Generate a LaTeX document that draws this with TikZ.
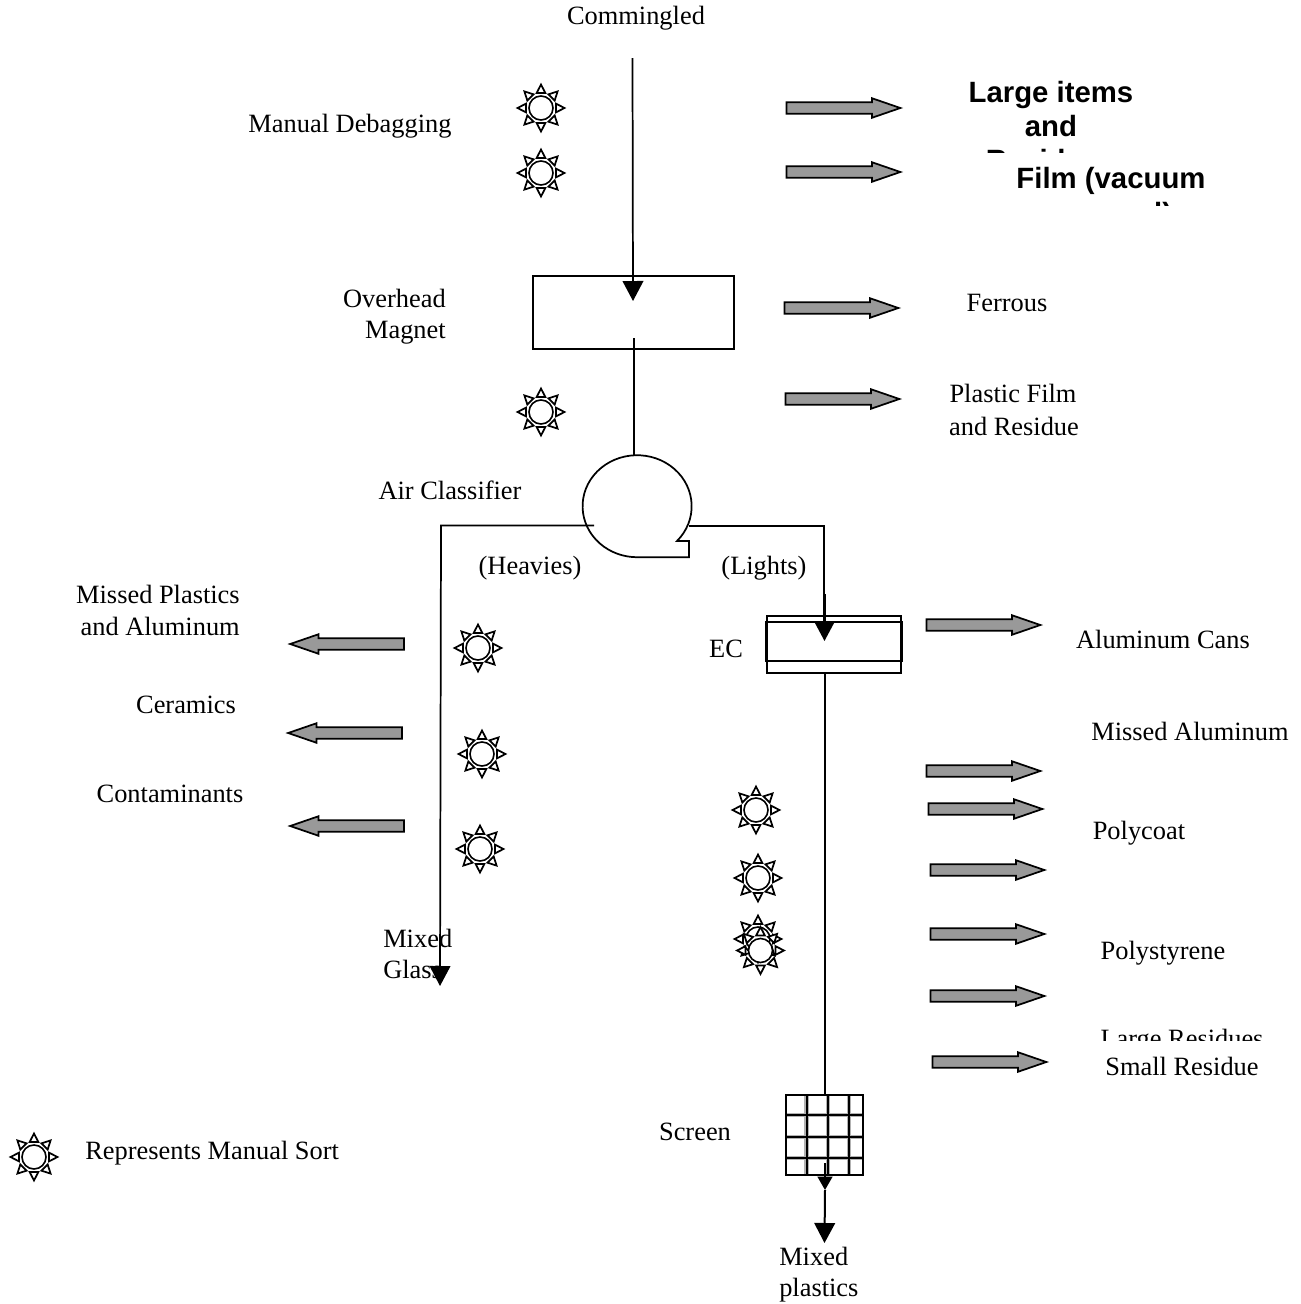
\documentclass[tikz,border=0pt]{standalone}
\usepackage{fontspec}
\setmainfont{Liberation Serif}
\newfontfamily\arialfont{Liberation Sans}
\usetikzlibrary{arrows.meta,shapes.arrows}
\tikzset{
  x=.75pt,y=-.75pt,
  flow/.style={draw=black,line width=1.3pt},
  flowtip/.style={flow,-{Triangle[length=15pt,width=15.5pt]}},
  smalltip/.style={flow,-{Triangle[length=10pt,width=11pt]}},
  rblock/.style={single arrow,draw=black,fill=black!40,line width=1.3pt,inner sep=3.7pt,
    minimum height=85.4pt,single arrow head extend=3pt,single arrow tip angle=38,
    single arrow head indent=0pt},
  lblock/.style={rblock,shape border rotate=180},
  lbl/.style={font=\fontsize{19.8}{23}\selectfont,inner sep=0pt,anchor=base},
  lblr/.style={lbl,anchor=base east},
  lbll/.style={lbl,anchor=base west},
  bold/.style={font=\arialfont\bfseries\fontsize{22}{26}\selectfont,inner sep=0pt,anchor=base},
  sunray/.style={draw=black,fill=white,line width=1.3pt,line join=miter},
  suncore/.style={draw=black,fill=white,line width=1.2pt,circle,minimum size=18pt,inner sep=0pt},
  sun/.pic={
    \foreach \a in {0,45,...,315}{
      \draw[sunray,rotate=\a] (11.2pt,-3.3pt) -- (17.6pt,0pt) -- (11.2pt,3.3pt) -- cycle;
    }
    \node[suncore] (-core) at (0,0) {};
  }
}
\begin{document}
\begin{tikzpicture}
\useasboundingbox[fill=white] (0,0) rectangle (1301,1304);

% text
\node[lbl] (tcomm) at (636,24) {Commingled};
\node[lbl] (tdebag) at (350,132) {Manual Debagging};
\begin{scope}
  \clip (900,60) rectangle (1250,152);
  \node[bold] (tlarge1) at (1051,102) {Large items};
  \node[bold] (tlarge2) at (1051,136) {and};
  \node[bold] (tlarge3) at (1051,170) {Residues};
\end{scope}
\begin{scope}
  \clip (950,152) rectangle (1250,205);
  \node[bold] (tfilm1) at (1111,188) {Film (vacuum};
  \node[bold] (tfilm2) at (1111,223) {removal)};
\end{scope}
\node[lblr] (tover) at (446,307) {Overhead};
\node[lblr] (tmag) at (446,338) {Magnet};
\node[lbl] (tferr) at (1007,311) {Ferrous};
\node[lbl] (tpf) at (1013,402) {Plastic Film};
\node[lbl] (tres) at (1014,435) {and Residue};
\node[lbl] (tair) at (450,499) {Air Classifier};
\node[lbl] (theav) at (530,574) {(Heavies)};
\node[lbl] (tlight) at (764,574) {(Lights)};
\node[lblr] (tmp) at (240,603) {Missed Plastics};
\node[lblr] (tal) at (240,635) {and Aluminum};
\node[lbl] (tcer) at (186,713) {Ceramics};
\node[lbl] (tcon) at (170,802) {Contaminants};
\node[lbl] (tec) at (726,657) {EC};
\node[lbl] (tcans) at (1163,648) {Aluminum Cans};
\node[lbl] (tma) at (1190,740) {Missed Aluminum};
\node[lbl] (tpoly) at (1139,839) {Polycoat};
\node[lbl] (tstyr) at (1163,959) {Polystyrene};
\begin{scope}
  \clip (1050,1000) rectangle (1290,1040.5);
  \node[lbl] (tlr) at (1182,1047) {Large Residues};
\end{scope}
\node[lbl] (tsr) at (1182,1075) {Small Residue};
\node[lbl] (tscr) at (695,1140) {Screen};
\node[lbll] (tmix) at (383,947) {Mixed};
\node[lbll] (tgla) at (383,978) {Glass};
\node[lbll] (trep) at (85,1159) {Represents Manual Sort};
\node[lbll] (tmpl) at (779,1265) {Mixed};
\node[lbll] (tmpl2) at (779,1296) {plastics};

% equipment
\node[draw=black,line width=1.3pt,minimum width=150.75pt,minimum height=54.75pt,inner sep=0pt] (magnet) at (633.5,312.5) {};

\coordinate (top) at (632.5,58);
\coordinate (magtip) at (633,301);
\draw[flowtip] (top) -- (magtip);

\coordinate (magout) at (634,338);
\coordinate (airtop) at (634,455);
\draw[flow] (magout) -- (airtop);

% air classifier
\draw[flow,line join=miter] (677,541) arc[start angle=-43,end angle=270,x radius=40.9pt,y radius=38.25pt] -- (689,557.2) -- (689,541) -- cycle;
\coordinate (heavyout) at (594,525.5);
\coordinate (heavycorner) at (441,525.5);
\coordinate (heavytip) at (440,986);
\draw[flowtip] (heavyout) -- (heavycorner) -- (heavytip);
\coordinate (lightout) at (689,526);
\coordinate (lightcorner) at (824,526);
\coordinate (ectip) at (824.5,641);
\draw[flow] (lightout) -- (lightcorner) -- (824,620);

% EC
\node[draw=black,fill=white,line width=1.3pt,minimum width=100.5pt,minimum height=42.75pt,inner sep=0pt] (ecout) at (834,644.5) {};
\node[draw=black,line width=1.3pt,minimum width=101.5pt,minimum height=29pt,inner sep=0pt] (ecin) at (834,641.5) {};
\coordinate (ecstub) at (824.5,594);
\draw[flowtip,line width=1.6pt] (ecstub) -- (ectip);

% screen
\coordinate (ecout1) at (825,673);
\coordinate (scrtop) at (825,1095);
\draw[flow] (ecout1) -- (scrtop);
\foreach \vx in {806.7,828,849}{
  \draw[black!30,line width=3.6pt] (\vx,1095) -- (\vx,1175);
}
\foreach \hy in {1115,1137,1158}{
  \draw[black!30,line width=3.6pt] (786,\hy) -- (863,\hy);
}
\foreach \vx in {806.7,828,849}{
  \draw[black,line width=1.7pt] (\vx,1095) -- (\vx,1175);
}
\foreach \hy in {1115,1137,1158}{
  \draw[black,line width=1.7pt] (786,\hy) -- (863,\hy);
}
\node[draw=black,line width=2.2pt,minimum width=57.75pt,minimum height=60pt,inner sep=0pt] (screen) at (824.5,1135) {};
\coordinate (scrstub) at (825,1163);
\coordinate (scrtip) at (825,1190);
\coordinate (endtip) at (824.5,1243);
\draw[smalltip,line width=1.6pt] (scrstub) -- (scrtip);
\draw[flowtip,line width=1.5pt] (scrtip) -- (endtip);

% block arrows
\node[rblock] (a1) at (835,108) {};
\node[rblock] (a2) at (835,172) {};
\node[rblock] (a3) at (833,308) {};
\node[rblock] (a4) at (834,399) {};
\node[lblock] (b1) at (355.5,644) {};
\node[lblock] (b2) at (353.5,733) {};
\node[lblock] (b3) at (355.5,826) {};
\node[rblock] (c1) at (975,625) {};
\node[rblock] (c2) at (975,771) {};
\node[rblock] (c3) at (977,809) {};
\node[rblock] (c4) at (979,870) {};
\node[rblock] (c5) at (979,934) {};
\node[rblock] (c6) at (979,996) {};
\node[rblock] (c7) at (981,1062) {};

% manual sort symbols
\pic at (541,108) {sun};
\pic at (541,173) {sun};
\pic at (541,412) {sun};
\pic at (478,648) {sun};
\pic at (482,754) {sun};
\pic at (480,849) {sun};
\pic at (756,810) {sun};
\pic at (758,878) {sun};
\pic at (758,939) {sun};
\pic at (760.5,950.5) {sun};
\pic at (34,1157) {sun};
\end{tikzpicture}
\end{document}
